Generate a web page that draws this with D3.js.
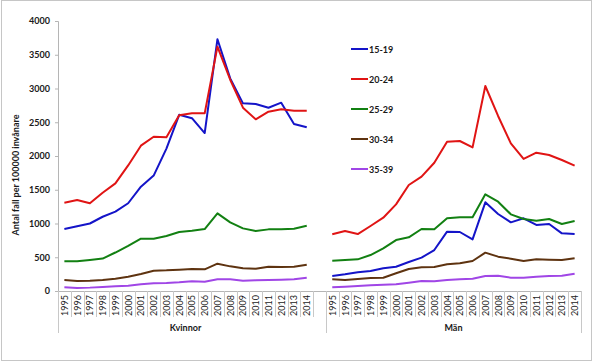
<!DOCTYPE html>
<html>
<head>
<meta charset="utf-8">
<script src="https://cdn.jsdelivr.net/npm/d3@7"></script>
<style>
  body { margin:0; background:#fff; }
  text { font-family: Lato, "Open Sans", sans-serif; fill:#1a1a1a; }
</style>
</head>
<body>
<script>
var years = [1995,1996,1997,1998,1999,2000,2001,2002,2003,2004,2005,2006,2007,2008,2009,2010,2011,2012,2013,2014];
var groups = ["Kvinnor","Män"];
var ageGroups = ["15-19","20-24","25-29","30-34","35-39"];
var colors = ["#1414c8","#e01414","#128012","#5e3310","#a046e6"];
var yTicks = [0,500,1000,1500,2000,2500,3000,3500,4000];

// Kvinnor
var k1519 = [920,960,1000,1100,1175,1300,1545,1710,2110,2610,2560,2340,3730,3150,2780,2770,2715,2790,2475,2425];
var k2024 = [1308,1348,1300,1456,1595,1860,2153,2286,2277,2603,2632,2632,3620,3130,2716,2543,2657,2691,2671,2671];
var k2529 = [440,440,460,480,570,667,775,775,815,874,893,918,1150,1017,928,888,913,913,923,967];
var k3034 = [163,148,153,163,183,212,252,301,306,316,326,321,405,365,336,331,360,355,360,390];
var k3539 = [55,45,50,60,70,79,99,114,118,128,143,138,173,173,153,158,163,168,173,197];
// Män
var m1519 = [222,247,277,296,336,360,430,494,607,879,874,765,1314,1141,1017,1077,978,993,854,844];
var m2024 = [840,889,844,963,1086,1284,1570,1694,1900,2210,2222,2128,3037,2593,2188,1956,2049,2015,1941,1857];
var m2529 = [449,459,469,533,632,755,795,918,914,1077,1091,1091,1432,1323,1136,1067,1042,1067,993,1037];
var m3034 = [173,163,178,193,197,262,326,351,355,395,410,444,568,509,479,444,469,464,459,484];
var m3539 = [55,64,74,84,94,99,123,148,143,163,173,183,222,227,197,197,212,222,227,257];

var kSeries = [k1519,k2024,k2529,k3034,k3539];
var mSeries = [m1519,m2024,m2529,m3034,m3539];

var W = 594, H = 362;
var svg = d3.select("body").append("svg").attr("width", W).attr("height", H);

svg.append("rect").attr("x",1.5).attr("y",0.5).attr("width",590).attr("height",360)
  .attr("fill","#fff").attr("stroke","#c6c6c6");

// category keys: Kvinnor years, blank, Män years
var keys = years.map(function(y){return "K"+y;}).concat(["gap"]).concat(years.map(function(y){return "M"+y;}));
var x = d3.scaleBand().domain(keys).range([58, 581]).padding(0);
var y = d3.scaleLinear().domain([0,4000]).range([291, 21]);
var bw = x.bandwidth();

// y axis
var yAxis = svg.append("g").attr("transform","translate(58,0)")
  .call(d3.axisLeft(y).tickValues(yTicks).tickSize(3).tickPadding(5).tickFormat(d3.format("d")));
yAxis.select(".domain").attr("stroke","#b5b5b5");
yAxis.selectAll(".tick line").attr("stroke","#b5b5b5");
yAxis.selectAll("text").style("font-size","9px").style("font-weight","bold").attr("fill","#1a1a1a");

svg.append("text")
  .attr("transform","translate(19,175) rotate(-90)")
  .attr("text-anchor","middle")
  .style("font-size","9px").style("font-weight","bold")
  .text("Antal fall per 100000 invånare");

// category axis
var cat = svg.append("g");
cat.append("line").attr("x1",58).attr("x2",581).attr("y1",291.5).attr("y2",291.5).attr("stroke","#b5b5b5");
var bounds = keys.map(function(k){return x(k);}).concat([x.range()[1]]);
var longB = [x("K1995"), x("M1995"), x.range()[1]];
bounds.forEach(function(b){
  var isLong = longB.some(function(l){return Math.abs(l-b)<0.5;});
  cat.append("line").attr("x1",Math.round(b)+0.5).attr("x2",Math.round(b)+0.5)
    .attr("y1",291).attr("y2", isLong ? 333 : 317).attr("stroke","#c8c8c8");
});
keys.forEach(function(k){
  if (k==="gap") return;
  cat.append("text")
    .attr("transform","translate("+(x(k)+bw/2)+",295) rotate(-90)")
    .attr("text-anchor","end").attr("dominant-baseline","central")
    .style("font-size","9px")
    .text(k.slice(1));
});
groups.forEach(function(g,i){
  var first = x((i===0?"K":"M")+years[0]);
  var last = x((i===0?"K":"M")+years[years.length-1]) + bw;
  cat.append("text").attr("x",(first+last)/2).attr("y",331)
    .attr("text-anchor","middle").style("font-size","9px").style("font-weight","bold")
    .text(g);
});

// lines
var line = d3.line().x(function(d){return x(d.k)+bw/2;}).y(function(d){return y(d.v);});
[["K",kSeries],["M",mSeries]].forEach(function(gs){
  gs[1].forEach(function(vals,si){
    var pts = vals.map(function(v,i){return {k:gs[0]+years[i], v:v};});
    svg.append("path").datum(pts).attr("d",line)
      .attr("fill","none").attr("stroke",colors[si]).attr("stroke-width",2)
      .attr("stroke-linejoin","round");
  });
});

// legend
var leg = svg.append("g").attr("transform","translate(351,49)");
ageGroups.forEach(function(a,i){
  var row = leg.append("g").attr("transform","translate(0,"+(i*30)+")");
  row.append("line").attr("x1",0).attr("x2",17).attr("y1",0).attr("y2",0)
    .attr("stroke",colors[i]).attr("stroke-width",2);
  row.append("text").attr("x",18).attr("y",0).attr("dominant-baseline","central")
    .style("font-size","9px").style("font-weight","bold").text(a);
});
</script>
</body>
</html>
